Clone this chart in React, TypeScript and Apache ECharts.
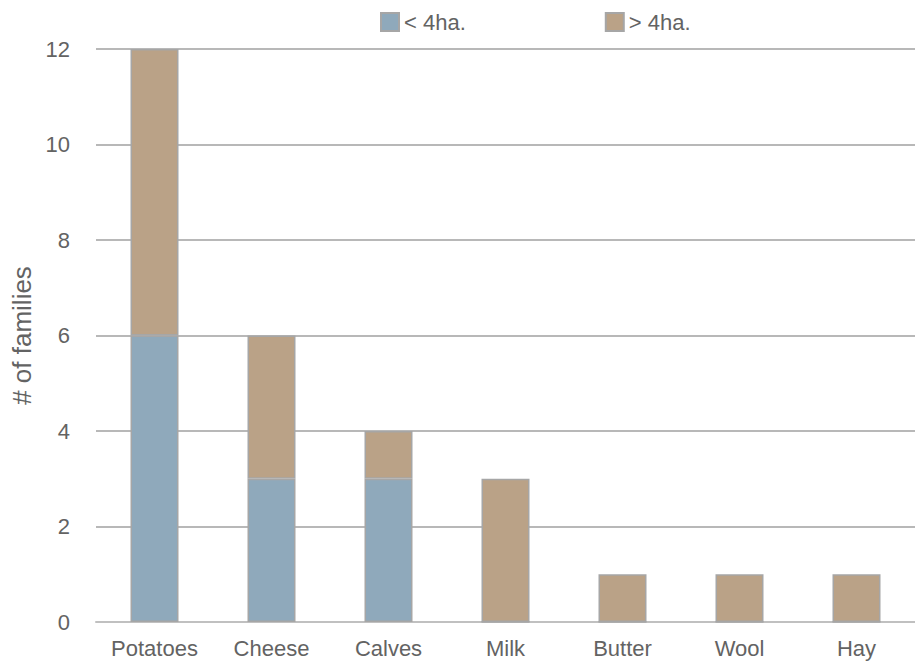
import React, { useEffect, useRef } from "react";
import * as echarts from "echarts";

const categories = ["Potatoes", "Cheese", "Calves", "Milk", "Butter", "Wool", "Hay"];
const smallFarms = [6, 3, 3, 0, 0, 0, 0];
const largeFarms = [6, 3, 1, 3, 1, 1, 1];
const seriesNames = ["< 4ha.", "> 4ha."];
const yTicks = { min: 0, max: 12, interval: 2 };

export default function App() {
  const ref = useRef<HTMLDivElement>(null);
  useEffect(() => {
    if (!ref.current) return;
    const chart = echarts.init(ref.current, undefined, { renderer: "svg" });
    const font = "Liberation Sans, Arial, sans-serif";
    const textColor = "#636363";
    chart.setOption({
      animation: false,
      textStyle: { fontFamily: font },
      legend: {
        top: 6,
        left: 375,
        itemWidth: 18,
        itemHeight: 18,
        itemGap: 139,
        icon: "rect",
        textStyle: { color: textColor, fontSize: 22, fontFamily: font },
        data: seriesNames,
      },
      grid: { left: 96, right: 0, top: 49, bottom: 41, containLabel: false },
      xAxis: {
        type: "category",
        data: categories,
        axisLine: { lineStyle: { color: "#c0c0c0", width: 2 } },
        axisTick: { show: false },
        axisLabel: { color: textColor, fontSize: 22, margin: 15, fontFamily: font },
      },
      yAxis: {
        type: "value",
        min: yTicks.min,
        max: yTicks.max,
        interval: yTicks.interval,
        name: "# of families",
        nameLocation: "middle",
        nameGap: 56,
        nameTextStyle: { color: textColor, fontSize: 26, fontFamily: font },
        axisLine: { show: false },
        axisTick: { show: false },
        axisLabel: { color: textColor, fontSize: 22, margin: 26, fontFamily: font },
        splitLine: { lineStyle: { color: "#b8b8b8", width: 2 } },
      },
      series: [
        {
          name: seriesNames[0],
          type: "bar",
          stack: "total",
          data: smallFarms,
          barWidth: 48,
          itemStyle: { color: "#8fa9bb", borderColor: "#a6a6a6", borderWidth: 1.5 },
        },
        {
          name: seriesNames[1],
          type: "bar",
          stack: "total",
          data: largeFarms,
          barWidth: 48,
          itemStyle: { color: "#baa287", borderColor: "#a6a6a6", borderWidth: 1.5 },
        },
      ],
    });
    return () => chart.dispose();
  }, []);
  return <div ref={ref} style={{ width: 915, height: 663, position: "absolute", left: 0, top: 0 }} />;
}
